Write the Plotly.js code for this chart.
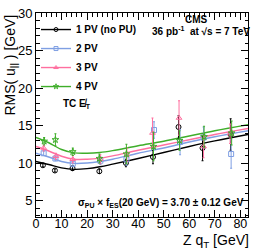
<!DOCTYPE html>
<html>
<head>
<meta charset="utf-8">
<script src="https://cdn.plot.ly/plotly-3.0.1.min.js"></script>
<style>html,body{margin:0;padding:0;background:#fff}#chart{width:260px;height:249px}</style>
</head>
<body>
<div id="chart"></div>
<script>
// Series names
var seriesNames = ["1 PV (no PU)", "2 PV", "3 PV", "4 PV"];

// Data points (Z qT [GeV], RMS(u||) [GeV], error)
var x1 = [2.7, 7.4, 14.3, 24.8, 35.2, 45.8, 55.8, 65.2, 76.2];
var y1 = [9.7, 9.0, 9.3, 8.9, 10.0, 10.8, 14.8, 12.0, 13.8];
var e1 = [0.2, 0.2, 0.3, 0.3, 0.5, 0.9, 1.5, 1.7, 2.1];

var x2 = [3.0, 7.6, 14.4, 25.2, 35.4, 46.2, 56.4, 65.6, 76.4];
var y2 = [11.3, 10.6, 9.9, 10.3, 10.5, 14.4, 12.8, 13.4, 11.2];
var e2 = [0.3, 0.3, 0.4, 0.5, 0.8, 1.1, 1.7, 1.4, 1.9];

var x3 = [3.0, 7.8, 14.4, 25.2, 35.6, 45.6, 56.0, 65.6, 76.0];
var y3 = [12.0, 10.9, 10.5, 10.5, 11.1, 14.0, 16.0, 12.2, 13.9];
var e3 = [0.4, 0.4, 0.5, 0.6, 0.9, 2.0, 2.3, 1.5, 1.3];

var x4 = [3.2, 7.6, 14.4, 24.8, 35.4, 46.0, 56.2, 65.8, 76.6];
var y4 = [12.9, 13.1, 11.5, 10.6, 11.2, 12.2, 13.0, 13.5, 14.0];
var e4 = [0.5, 0.8, 0.5, 0.6, 1.3, 1.9, 1.3, 1.4, 1.6];

// Fit curves
var xFit  = [0, 5, 10, 15, 20, 25, 30, 40, 50, 60, 70, 83];
var fit1  = [10.2, 9.8, 9.35, 9.15, 9.25, 9.5, 9.85, 10.6, 11.4, 12.2, 12.95, 13.8];
var fit2  = [11.3, 10.8, 10.2, 9.95, 10.0, 10.2, 10.5, 11.3, 12.0, 12.8, 13.5, 14.3];
var fit3  = [12.2, 11.6, 10.9, 10.5, 10.5, 10.65, 10.95, 11.7, 12.4, 13.1, 13.8, 14.6];
var fit4  = [13.4, 12.7, 11.8, 11.35, 11.3, 11.4, 11.65, 12.3, 12.9, 13.6, 14.3, 15.1];

var xTicks = [0, 10, 20, 30, 40, 50, 60, 70, 80];
var yTicks = [5, 10, 15, 20, 25, 30];

var colors = ["#000000", "#7f9fe3", "#ff6f9f", "#3fae2a"];
var symbols = ["circle-open", "square-open", "triangle-up-open", "star-open"];
var xs = [x1, x2, x3, x4], ys = [y1, y2, y3, y4], es = [e1, e2, e3, e4];
var fits = [fit1, fit2, fit3, fit4];

var traces = [];
for (var i = 0; i < 4; i++) {
  traces.push({
    x: xFit, y: fits[i], type: "scatter", mode: "lines",
    line: {color: colors[i], width: 1.4, shape: "spline"},
    showlegend: false, hoverinfo: "skip"
  });
}
for (var i = 0; i < 4; i++) {
  traces.push({
    x: xs[i], y: ys[i], type: "scatter", mode: "markers",
    marker: {symbol: symbols[i], size: 5, color: colors[i], line: {width: 1, color: colors[i]}},
    error_y: {type: "data", array: es[i], color: colors[i], thickness: 1, width: 1},
    showlegend: false
  });
}
// legend entries (line + marker)
for (var i = 0; i < 4; i++) {
  traces.push({
    x: xs[i], y: ys[i], type: "scatter", mode: "lines+markers",
    name: seriesNames[i], visible: "legendonly",
    line: {color: colors[i], width: 1.4},
    marker: {symbol: symbols[i], size: 4, color: colors[i], line: {width: 1, color: colors[i]}}
  });
}

var font = "Liberation Sans, Arial, Helvetica, sans-serif";
var layout = {
  width: 260, height: 249,
  margin: {l: 36, r: 12, t: 13, b: 32},
  paper_bgcolor: "#fff", plot_bgcolor: "#fff",
  font: {family: font, color: "#000", size: 13},
  showlegend: true,
  legend: {x: 0.0, y: 0.99, xanchor: "left", yanchor: "top", bgcolor: "rgba(0,0,0,0)",
           font: {family: font, size: 10, color: "#000", weight: "bold"}, itemclick: false, itemdoubleclick: false},
  xaxis: {
    range: [0, 83], tickmode: "array", tickvals: xTicks, ticktext: xTicks.map(String),
    ticks: "inside", ticklen: 7, tickwidth: 1, tickcolor: "#000", ticklabelstandoff: -5,
    ticklabelposition: "outside",
    minor: {dtick: 2, tick0: 0, ticks: "inside", ticklen: 3.5, tickcolor: "#000", showgrid: false},
    showline: true, linecolor: "#000", linewidth: 1, mirror: "allticks",
    showgrid: false, zeroline: false, tickfont: {size: 12.5, family: font}
  },
  yaxis: {
    range: [2.8, 30], tickmode: "array", tickvals: yTicks, ticktext: yTicks.map(String),
    ticks: "inside", ticklen: 7, tickwidth: 1, tickcolor: "#000",
    minor: {dtick: 1, tick0: 0, ticks: "inside", ticklen: 3.5, tickcolor: "#000", showgrid: false},
    showline: true, linecolor: "#000", linewidth: 1, mirror: "allticks",
    showgrid: false, zeroline: false, tickfont: {size: 13, family: font}
  },
  annotations: [
    {text: "RMS( u<sub>||</sub> ) [GeV]", xref: "paper", yref: "paper", x: -0.12, y: 0.745,
     xanchor: "center", yanchor: "middle", textangle: -90, showarrow: false, font: {size: 14, family: font}},
    {text: "Z q<sub>T</sub> [GeV]", xref: "paper", yref: "paper", x: 1.015, y: -0.118,
     xanchor: "right", yanchor: "middle", showarrow: false, font: {size: 14, family: font}},
    {text: "CMS", xref: "paper", yref: "paper", x: 0.755, y: 0.968, xanchor: "center", yanchor: "middle",
     showarrow: false, font: {size: 10, family: font, weight: "bold"}},
    {text: "36 pb<sup>-1</sup>  at √s = 7 TeV", xref: "paper", yref: "paper", x: 0.78, y: 0.912,
     xanchor: "center", yanchor: "middle", showarrow: false, font: {size: 10, family: font, weight: "bold"}},
    {text: "TC E\u0338<sub>T</sub>", xref: "paper", yref: "paper", x: 0.12, y: 0.555,
     xanchor: "left", yanchor: "middle", showarrow: false, font: {size: 10, family: font, weight: "bold"}},
    {text: "σ<sub>PU</sub> × f<sub>ES</sub>(20 GeV) = 3.70 ± 0.12 GeV", xref: "paper", yref: "paper",
     x: 0.99, y: 0.07, xanchor: "right", yanchor: "middle", showarrow: false,
     font: {size: 10, family: font, weight: "bold"}}
  ]
};

Plotly.newPlot("chart", traces, layout, {staticPlot: true, displayModeBar: false}).then(function () {
  document.querySelectorAll(".legend .traces").forEach(function (g) { g.style.opacity = 1; g.setAttribute("opacity", 1); });
});
</script>
</body>
</html>
